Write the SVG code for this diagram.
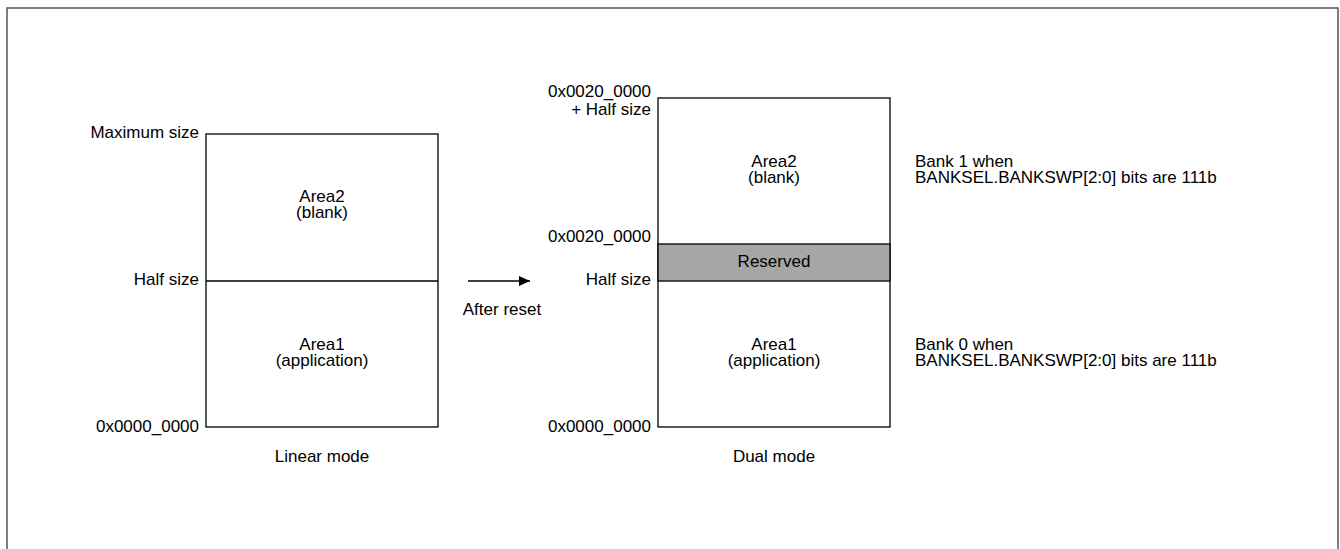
<svg xmlns="http://www.w3.org/2000/svg" width="1340" height="549" viewBox="0 0 1340 549">
<defs>
<style>
text{font-family:"Liberation Sans",Arial,sans-serif;font-size:17px;fill:#000}
.r{text-anchor:end}
.m{text-anchor:middle}
.box{fill:#fff;stroke:#000;stroke-width:1.3}
.ln{stroke:#000;stroke-width:1.3;fill:none}
</style>
<marker id="ah" markerWidth="12" markerHeight="10" refX="11" refY="5" orient="auto" markerUnits="userSpaceOnUse">
<path d="M0,0 L11,5 L0,10 Z" fill="#000"/>
</marker>
</defs>
<rect x="0" y="0" width="1340" height="549" fill="#fff"/>
<rect id="frame" x="7" y="8" width="1331" height="560" fill="none" stroke="#555" stroke-width="1.5"/>

<g id="linear">
<rect class="box" x="206" y="134" width="232" height="293"/>
<line class="ln" x1="206" y1="281" x2="438" y2="281"/>
<text class="r" x="199" y="138">Maximum size</text>
<text class="r" x="199" y="285">Half size</text>
<text class="r" x="199" y="432">0x0000_0000</text>
<text class="m" x="322" y="202">Area2</text>
<text class="m" x="322" y="218">(blank)</text>
<text class="m" x="322" y="350">Area1</text>
<text class="m" x="322" y="366">(application)</text>
<text class="m" x="322" y="462">Linear mode</text>
</g>

<g id="connectors">
<line class="ln" x1="468" y1="281" x2="530" y2="281" marker-end="url(#ah)"/>
<text class="m" x="502" y="315">After reset</text>
</g>

<g id="dual">
<rect class="box" x="658" y="98" width="232" height="329"/>
<rect x="658" y="244" width="232" height="37" fill="#a6a6a6" stroke="#000" stroke-width="1.3"/>
<text class="m" x="774" y="267">Reserved</text>
<text class="r" x="651" y="97">0x0020_0000</text>
<text class="r" x="651" y="115">+ Half size</text>
<text class="r" x="651" y="242">0x0020_0000</text>
<text class="r" x="651" y="285">Half size</text>
<text class="r" x="651" y="432">0x0000_0000</text>
<text class="m" x="774" y="167">Area2</text>
<text class="m" x="774" y="183">(blank)</text>
<text class="m" x="774" y="350">Area1</text>
<text class="m" x="774" y="366">(application)</text>
<text class="m" x="774" y="462">Dual mode</text>
</g>

<g id="bank1">
<text x="915" y="167">Bank 1 when</text>
<text x="915" y="183">BANKSEL.BANKSWP[2:0] bits are 111b</text>
</g>
<g id="bank0">
<text x="915" y="350">Bank 0 when</text>
<text x="915" y="366">BANKSEL.BANKSWP[2:0] bits are 111b</text>
</g>
</svg>
